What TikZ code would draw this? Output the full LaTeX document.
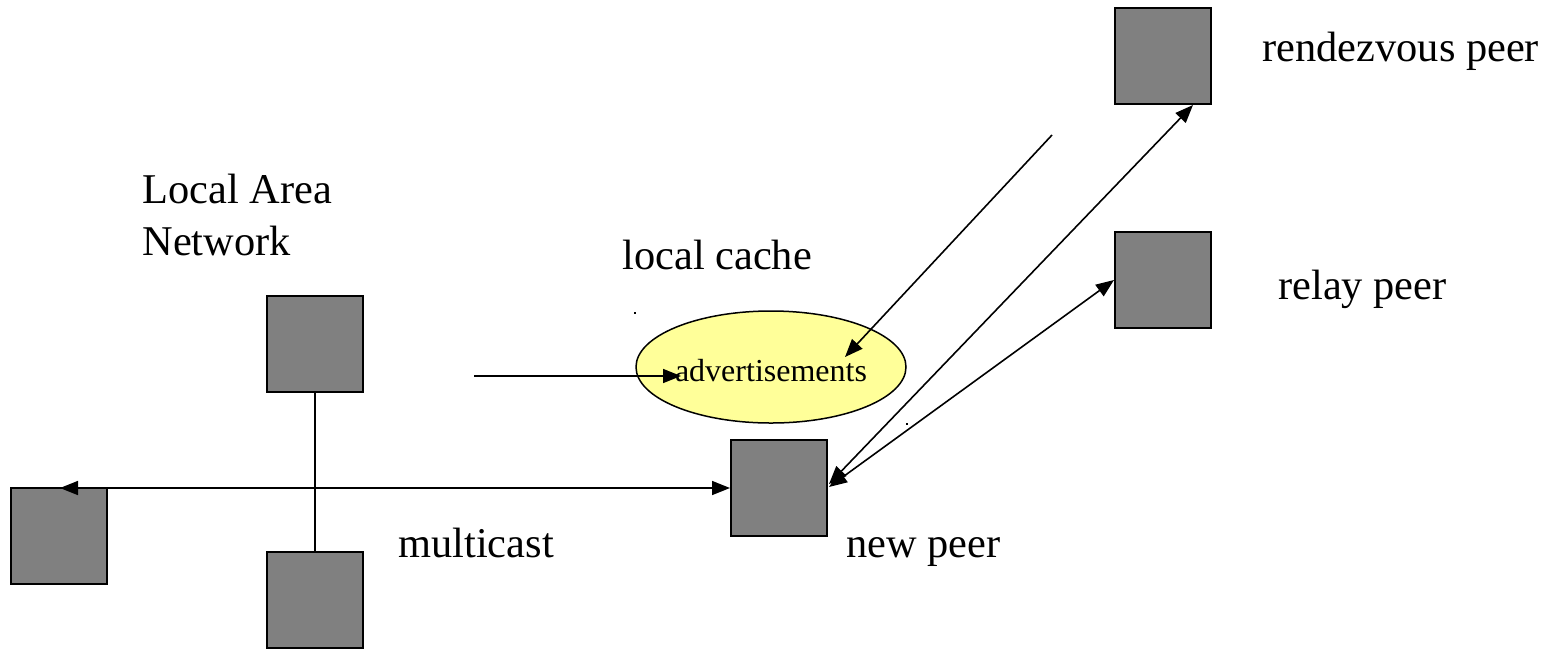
\documentclass[tikz,border=0pt]{standalone}
\usepackage{fontspec}
\setmainfont{Liberation Serif}
\usetikzlibrary{arrows.meta,shapes.geometric}
\definecolor{peergray}{RGB}{128,128,128}
\definecolor{cacheyellow}{RGB}{255,255,153}
\begin{document}
\begin{tikzpicture}[x=0.5pt,y=-0.5pt,
  peer/.style={draw=black,line width=1pt,fill=peergray,minimum size=48pt,inner sep=0pt},
  lbl/.style={anchor=base west,inner sep=0pt,font=\fontsize{21.2}{25}\selectfont},
  conn/.style={line width=0.8pt},
  tip/.style={-{Triangle[length=9pt,width=7pt]}},
  bothtips/.style={{Triangle[length=9pt,width=7pt]}-{Triangle[length=9pt,width=7pt]}}]
\useasboundingbox (0,0) rectangle (1546,649);
% peers
\node[peer] (rdv)     at (1163,56)  {};
\node[peer] (relay)   at (1163,280) {};
\node[peer] (lantop)  at (315,344)  {};
\node[peer] (leftp)   at (58.5,536) {};
\node[peer] (lanbot)  at (315,600)  {};
\node[peer] (newpeer) at (779,488)  {};
% local cache
\node[draw=black,line width=0.75pt,fill=cacheyellow,ellipse,minimum width=135pt,minimum height=56pt,inner sep=0pt] (cache) at (771,367) {};
\node[anchor=base,inner sep=0pt,font=\fontsize{16}{19}\selectfont] (adv) at (771,381) {advertisements};
% labels
\node[lbl] (lan1)  at (142,203) {Local Area};
\node[lbl] (lan2)  at (142,255) {Network};
\node[lbl] (lcache) at (622,269) {local cache};
\node[lbl] (lrdv)  at (1262,61)  {rendezvous peer};
\node[lbl] (lrelay) at (1278,299) {relay peer};
\node[lbl] (lmc)   at (398,557) {multicast};
\node[lbl] (lnew)  at (846,557) {new peer};
% free ends
\coordinate (mcleft)  at (60,488);
\coordinate (instart) at (474,376);
\coordinate (inend)   at (681,376);
\coordinate (rdvfrom) at (1052,135);
\coordinate (rdvto)   at (845,357);
\coordinate (rdvtip)  at (1193,105);
\coordinate (npa)     at (829,484);
\coordinate (npb)     at (829,487);
% connectors
\draw[conn] (lantop.south) -- (lanbot.north);
\draw[conn,bothtips] (mcleft) -- (newpeer.west);
\draw[conn,tip] (instart) -- (inend);
\draw[conn,tip] (rdvfrom) -- (rdvto);
\draw[conn,bothtips] (npa) -- (rdvtip);
\draw[conn,bothtips] (npb) -- (relay.west);
% stray marks
\fill (634,312) rectangle (636,314);
\fill (906,423) rectangle (908,425);
\end{tikzpicture}
\end{document}
